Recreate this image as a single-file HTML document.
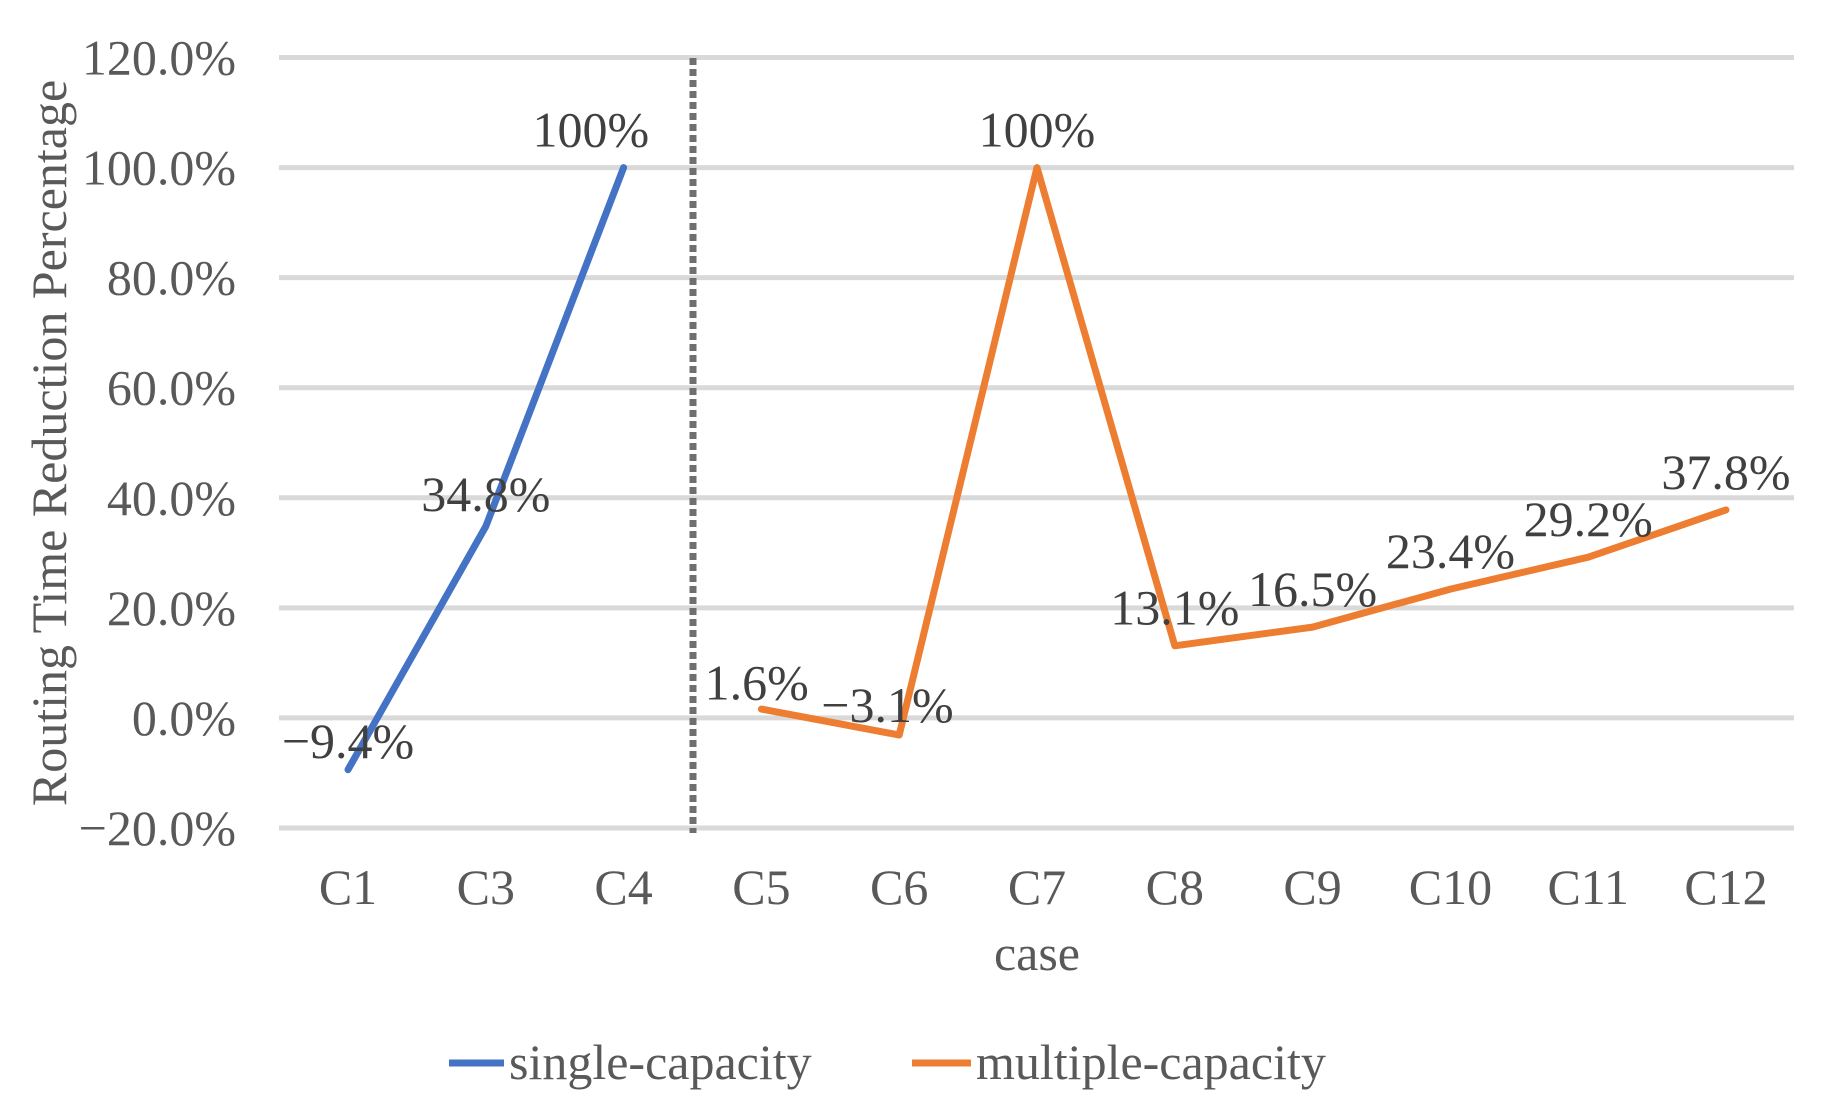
<!DOCTYPE html>
<html><head><meta charset="utf-8"><style>
html,body{margin:0;padding:0;background:#fff;}
svg{display:block;font-family:"Liberation Serif",serif;}
</style></head><body>
<svg id="chart" width="1838" height="1116" viewBox="0 0 1838 1116"></svg>
<script>
const categories=["C1","C3","C4","C5","C6","C7","C8","C9","C10","C11","C12"];
const singleValues=[-9.4,34.8,100];
const multipleValues=[1.6,-3.1,100,13.1,16.5,23.4,29.2,37.8];
const singleLabels=["−9.4%","34.8%","100%"];
const multipleLabels=["1.6%","−3.1%","100%","13.1%","16.5%","23.4%","29.2%","37.8%"];
const yTicks=[-20,0,20,40,60,80,100,120];
const yTickLabels=["−20.0%","0.0%","20.0%","40.0%","60.0%","80.0%","100.0%","120.0%"];

const S=1.1725;
const svg=document.getElementById('chart');
const NS='http://www.w3.org/2000/svg';
function el(t,a,txt){const e=document.createElementNS(NS,t);for(const k in a)e.setAttribute(k,a[k]);if(txt!==undefined)e.textContent=txt;svg.appendChild(e);return e;}
const x0=279,x1=1794,yTop=57.5,yBot=828;
function xs(i){return 348+i*137.8;}
function ys(v){return yBot-(v+20)/140*(yBot-yTop);}

yTicks.forEach((t,i)=>{
  const g=el('line',{x1:x0,x2:x1,y1:ys(t),y2:ys(t),stroke:'#d9d9d9','stroke-width':5});
  
  
  const l=el('text',{x:236,y:ys(t)+17,'text-anchor':'end','font-size':50,fill:'#595959'},yTickLabels[i]);
  
  
});
categories.forEach((c,i)=>{
  const l=el('text',{x:xs(i),y:904,'text-anchor':'middle','font-size':50,fill:'#595959'},c);
  
  
});
const sep=el('line',{x1:693,x2:693,y1:58,y2:833,stroke:'#6f6f6f','stroke-width':7,'stroke-dasharray':'7 4'});



const yt=el('text',{transform:'translate(66,443) rotate(-90)','text-anchor':'middle','font-size':50,fill:'#595959'},'Routing Time Reduction Percentage');


const xt=el('text',{x:1037,y:970,'text-anchor':'middle','font-size':50,fill:'#595959'},'case');



function series(vals,start,color,name){
  const pts=vals.map((v,i)=>xs(start+i).toFixed(1)+','+ys(v).toFixed(1)).join(' ');
  const p=el('polyline',{points:pts,fill:'none',stroke:color,'stroke-width':7,'stroke-linejoin':'round','stroke-linecap':'round'});
  
  
}
series(singleValues,0,'#4472c4','single-capacity-line');
series(multipleValues,3,'#ed7d31','multiple-capacity-line');

const sOff=[[0,-10],[0,-13],[-28,-18]];
const mOff=[[-4,-8],[-10,-11],[0,-18],[0,-18],[0,-18],[0,-18],[0,-18],[0,-18]];
function labels(vals,txts,start,offs){
  vals.forEach((v,i)=>{
    const l=el('text',{x:xs(start+i)+offs[i][0]*S,y:ys(v)+offs[i][1]*S,'text-anchor':'middle','font-size':50,fill:'#404040'},txts[i]);
    
    
  });
}
labels(singleValues,singleLabels,0,sOff);
labels(multipleValues,multipleLabels,3,mOff);

const lg1=el('line',{x1:449,x2:504,y1:1063,y2:1063,stroke:'#4472c4','stroke-width':7});


const lt1=el('text',{x:509,y:1079,'font-size':50,fill:'#595959'},'single-capacity');


const lg2=el('line',{x1:912,x2:971,y1:1063,y2:1063,stroke:'#ed7d31','stroke-width':7});


const lt2=el('text',{x:976,y:1079,'font-size':50,fill:'#595959'},'multiple-capacity');


</script>
</body></html>
